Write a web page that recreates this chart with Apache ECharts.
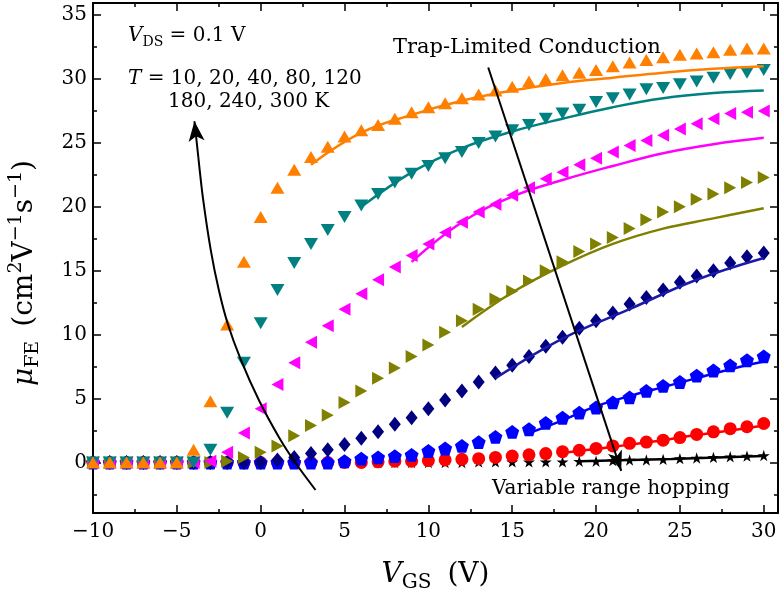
<!DOCTYPE html>
<html>
<head>
<meta charset="utf-8">
<script src="https://cdn.jsdelivr.net/npm/echarts@6/dist/echarts.min.js"></script>
<style>
  html, body { margin: 0; padding: 0; background: #fff; }
  #chart { width: 784px; height: 596px; }
</style>
</head>
<body>
<div id="chart"></div>
<script>
// gate voltage (V)
const vgs = [-10, -9, -8, -7, -6, -5, -4, -3, -2, -1, 0, 1, 2, 3, 4, 5, 6, 7, 8, 9, 10,
  11, 12, 13, 14, 15, 16, 17, 18, 19, 20, 21, 22, 23, 24, 25, 26, 27, 28, 29, 30];

// measured mobility, one array per temperature
const mu10K = [0, 0, 0, 0, 0, 0, 0, 0, 0, 0, 0, 0, 0, 0, 0, 0, 0, 0, 0, 0, 0,
  0, 0, 0.05, 0.05, 0.05, 0.05, 0.05, 0.05, 0.1, 0.1, 0.15, 0.2, 0.2, 0.25, 0.3, 0.35, 0.4, 0.45, 0.5, 0.55];
const mu20K = [0, 0, 0, 0, 0, 0, 0, 0, 0, 0, 0, 0, 0, 0, 0, 0, 0, 0.05, 0.1, 0.1, 0.15,
  0.2, 0.25, 0.3, 0.4, 0.5, 0.6, 0.7, 0.85, 0.95, 1.1, 1.3, 1.5, 1.6, 1.75, 1.95, 2.2, 2.4, 2.65, 2.8, 3.05];
const mu40K = [0, 0, 0, 0, 0, 0, 0, 0, 0, 0, 0, 0, 0, 0, 0, 0.1, 0.3, 0.4, 0.5, 0.6, 0.9,
  1.1, 1.3, 1.6, 2.0, 2.4, 2.6, 3.1, 3.5, 3.9, 4.3, 4.7, 5.1, 5.6, 6.0, 6.3, 6.8, 7.2, 7.6, 8.0, 8.3];
const mu80K = [0, 0, 0, 0, 0, 0, 0, 0, 0, 0, 0, 0.2, 0.4, 0.7, 1.0, 1.4, 1.9, 2.4, 3.0, 3.5, 4.2,
  4.9, 5.6, 6.3, 7.0, 7.6, 8.3, 9.1, 9.8, 10.5, 11.1, 11.7, 12.4, 12.9, 13.5, 14.1, 14.6, 15.0, 15.6, 16.1, 16.4];
const mu120K = [0, 0, 0, 0, 0, 0, 0, 0, 0.1, 0.4, 0.8, 1.3, 2.1, 2.9, 3.7, 4.7, 5.6, 6.6, 7.4, 8.3, 9.2,
  10.2, 11.1, 12.0, 12.8, 13.4, 14.2, 15.0, 15.7, 16.5, 17.1, 17.6, 18.3, 19.0, 19.6, 20.0, 20.6, 21.0, 21.5, 21.9, 22.3];
const mu180K = [0, 0, 0, 0, 0, 0, 0, 0.1, 0.8, 2.3, 4.2, 6.1, 7.8, 9.4, 10.7, 12.0, 13.2, 14.3, 15.3, 16.2, 17.1,
  18.0, 18.8, 19.6, 20.2, 20.9, 21.5, 22.2, 22.7, 23.3, 23.8, 24.3, 24.8, 25.2, 25.6, 26.1, 26.5, 26.9, 27.3, 27.4, 27.5];
const mu240K = [0, 0, 0, 0, 0, 0, 0, 1.0, 3.9, 7.8, 10.9, 13.5, 15.6, 17.1, 18.2, 19.2, 20.1, 21.0, 21.9, 22.6, 23.2,
  23.8, 24.3, 25.0, 25.5, 26.0, 26.4, 26.9, 27.3, 27.6, 28.2, 28.5, 28.8, 29.2, 29.3, 29.6, 29.8, 30.1, 30.4, 30.5, 30.7];
const mu300K = [0, 0, 0, 0, 0, 0, 1.0, 4.8, 10.8, 15.7, 19.2, 21.5, 22.9, 23.9, 24.7, 25.5, 26.0, 26.4, 26.9, 27.4, 27.8,
  28.1, 28.5, 28.8, 29.1, 29.4, 29.8, 30.0, 30.3, 30.5, 30.7, 31.0, 31.3, 31.5, 31.7, 31.9, 32.0, 32.1, 32.3, 32.4, 32.4];

// model fits [Vgs, mu]
const fit10K = [[19, 0.1], [24.5, 0.28], [30, 0.5]];
const fit20K = [[18, 0.75], [20, 1.05], [22, 1.4], [24, 1.75], [26, 2.15], [28, 2.5], [30, 2.9]];
const fit40K = [[16, 2.3], [18, 3.3], [20, 4.4], [22, 5.2], [24, 5.9], [26, 6.6], [28, 7.3], [30, 7.9]];
const fit80K = [[14, 6.6], [18, 9.7], [22, 12.0], [26, 14.3], [30, 16.0]];
const fit120K = [[12, 10.6], [15, 13.3], [18, 15.4], [21, 17.1], [24, 18.3], [27, 19.1], [30, 19.9]];
const fit180K = [[9, 15.7], [12, 18.8], [15, 20.8], [18, 22.1], [21, 23.2], [24, 24.2], [27, 24.9], [30, 25.4]];
const fit240K = [[6, 20.0], [9, 22.7], [12, 24.6], [15, 25.9], [18, 26.9], [21, 27.8], [24, 28.5], [27, 28.9], [30, 29.1]];
const fit300K = [[3, 23.3], [6, 25.8], [9, 27.2], [12, 28.3], [15, 29.1], [18, 29.7], [21, 30.1], [24, 30.5], [27, 30.8], [30, 31.0]];

// ticks
const xMajorTicks = [-10, -5, 0, 5, 10, 15, 20, 25, 30];
const xMinorTicks = [-7.5, -2.5, 2.5, 7.5, 12.5, 17.5, 22.5, 27.5];
const yMajorTicks = [0, 5, 10, 15, 20, 25, 30, 35];
const yMinorTicks = [-2.5, 2.5, 7.5, 12.5, 17.5, 22.5, 27.5, 32.5];

const SERIF = "DejaVu Serif";
const STAR = "path://M50,0 L61,35 L98,35 L68,57 L79,91 L50,70 L21,91 L32,57 L2,35 L39,35 Z";
const PENTAGON = "path://M50,0 L98,36 L79,95 L21,95 L2,36 Z";

const sets = [
  { name: "10 K", mu: mu10K, fit: fit10K, color: "#000000", line: "#000000", symbol: STAR, size: 12, rotate: 0 },
  { name: "20 K", mu: mu20K, fit: fit20K, color: "#ff0000", line: "#ff0000", symbol: "circle", size: 13, rotate: 0 },
  { name: "40 K", mu: mu40K, fit: fit40K, color: "#0000ff", line: "#0000ff", symbol: PENTAGON, size: 14, rotate: 0 },
  { name: "80 K", mu: mu80K, fit: fit80K, color: "#000080", line: "#1a1aa6", symbol: "diamond", size: [12, 15], rotate: 0 },
  { name: "120 K", mu: mu120K, fit: fit120K, color: "#808000", line: "#808000", symbol: "triangle", size: [13, 12], rotate: -90 },
  { name: "180 K", mu: mu180K, fit: fit180K, color: "#ff00ff", line: "#ff00ff", symbol: "triangle", size: [13, 12], rotate: 90 },
  { name: "240 K", mu: mu240K, fit: fit240K, color: "#008080", line: "#008080", symbol: "triangle", size: [14, 12], rotate: 180 },
  { name: "300 K", mu: mu300K, fit: fit300K, color: "#ff8000", line: "#ff8000", symbol: "triangle", size: [14, 12], rotate: 0 },
];

function xAxisDef(position, ticks, len, withLine, withLabel) {
  return {
    type: "value", position: position, min: -10, max: 30.85,
    axisLine: { show: withLine, onZero: false, lineStyle: { color: "#000", width: 2 } },
    axisTick: { show: true, inside: true, length: len, customValues: ticks, lineStyle: { color: "#000", width: 1.5 } },
    axisLabel: {
      show: withLabel, customValues: ticks, margin: 9,
      fontFamily: SERIF, fontSize: 20, color: "#000",
      formatter: (v) => String(v).replace("-", "\u2212"),
    },
    splitLine: { show: false },
  };
}

function yAxisDef(position, ticks, len, withLine, withLabel) {
  return {
    type: "value", position: position, min: -3.95, max: 35.95,
    axisLine: { show: withLine, onZero: false, lineStyle: { color: "#000", width: 2 } },
    axisTick: { show: true, inside: true, length: len, customValues: ticks, lineStyle: { color: "#000", width: 1.5 } },
    axisLabel: {
      show: withLabel, customValues: ticks, margin: 6,
      fontFamily: SERIF, fontSize: 20, color: "#000",
    },
    splitLine: { show: false },
  };
}

const xAxes = [
  xAxisDef("bottom", xMajorTicks, 8, true, true),
  xAxisDef("bottom", xMinorTicks, 4, false, false),
  xAxisDef("top", xMajorTicks, 8, true, false),
  xAxisDef("top", xMinorTicks, 4, false, false),
];
Object.assign(xAxes[0], {
  name: "{it|V}{sub|GS}{sp|}(V)",
  nameLocation: "middle",
  nameGap: 44,
  nameTextStyle: {
    fontFamily: SERIF, fontSize: 28, color: "#000",
    rich: {
      it: { fontFamily: SERIF, fontStyle: "italic", fontSize: 28, lineHeight: 36 },
      sub: { fontFamily: SERIF, fontSize: 20, lineHeight: 26, verticalAlign: "bottom" },
      sp: { width: 16 },
    },
  },
});

const yAxes = [
  yAxisDef("left", yMajorTicks, 8, true, true),
  yAxisDef("left", yMinorTicks, 4, false, false),
  yAxisDef("right", yMajorTicks, 8, true, false),
  yAxisDef("right", yMinorTicks, 4, false, false),
];
Object.assign(yAxes[0], {
  name: "{it|\u03bc}{sub|FE}{sp|}(cm{sup|2}V{sup|\u22121}s{sup|\u22121})",
  nameLocation: "middle",
  nameGap: 50,
  nameRotate: 90,
  nameTextStyle: {
    fontFamily: SERIF, fontSize: 28, color: "#000",
    padding: [0, 30, 0, 0],
    rich: {
      it: { fontFamily: SERIF, fontStyle: "italic", fontSize: 28, lineHeight: 36 },
      sub: { fontFamily: SERIF, fontSize: 19, lineHeight: 26, verticalAlign: "bottom" },
      sup: { fontFamily: SERIF, fontSize: 19, lineHeight: 22, verticalAlign: "top" },
      sp: { width: 14 },
    },
  },
});

const series = [];
sets.forEach((s) => {
  series.push({
    type: "scatter",
    name: s.name,
    data: vgs.map((v, i) => [v, s.mu[i]]),
    symbol: s.symbol,
    symbolSize: s.size,
    symbolRotate: s.rotate,
    symbolKeepAspect: true,
    itemStyle: { color: s.color, opacity: 1 },
    emphasis: { disabled: true },
  });
  series.push({
    type: "line",
    name: s.name + " fit",
    data: s.fit,
    smooth: 0.4,
    showSymbol: false,
    symbol: "none",
    lineStyle: { color: s.line, width: 2.5 },
    emphasis: { disabled: true },
  });
});

// annotation arrows (data coordinates)
function arrowHead(from, to, size) {
  return {
    silent: true,
    animation: false,
    symbol: ["none", "arrow"],
    symbolSize: size,
    label: { show: false },
    emphasis: { disabled: true },
    lineStyle: { color: "#000", width: 2, type: "solid" },
    data: [[{ coord: from }, { coord: to }]],
  };
}
// curved arrow: temperature increasing
series.push({
  type: "line",
  name: "T arrow",
  data: [[3.27, -2.15], [2.08, -0.04], [1.08, 2.0], [-0.11, 4.89], [-1.18, 8.03], [-1.98, 10.92],
    [-2.5, 13.51], [-2.98, 16.64], [-3.43, 20.56], [-3.72, 23.9]],
  smooth: 0.3,
  showSymbol: false,
  symbol: "none",
  lineStyle: { color: "#000", width: 2 },
  emphasis: { disabled: true },
  markLine: arrowHead([-3.72, 23.9], [-3.95, 26.7], [12, 20]),
});
// straight arrow: trap-limited -> variable range hopping
series.push({
  type: "line",
  name: "regime arrow",
  data: [],
  markLine: arrowHead([13.57, 30.9], [21.5, -0.65], [11, 20]),
});

const textStyleBase = { fontFamily: SERIF, fill: "#000" };

const option = {
  animation: false,
  backgroundColor: "#fff",
  grid: { left: 93, right: 6, top: 3, bottom: 83, containLabel: false, outerBoundsMode: "none" },
  xAxis: xAxes,
  yAxis: yAxes,
  series: series,
  graphic: [
    {
      type: "text", left: 128, top: 26,
      style: {
        ...textStyleBase,
        text: "{it|V}{sub|DS}{n| = 0.1 V}",
        rich: {
          it: { fontFamily: SERIF, fontStyle: "italic", fontSize: 20, lineHeight: 26 },
          sub: { fontFamily: SERIF, fontSize: 14, lineHeight: 18, verticalAlign: "bottom" },
          n: { fontFamily: SERIF, fontSize: 20, lineHeight: 26 },
        },
      },
    },
    {
      type: "text", left: 128, top: 69,
      style: {
        ...textStyleBase,
        text: "{it|T}{n| = 10, 20, 40, 80, 120}",
        rich: {
          it: { fontFamily: SERIF, fontStyle: "italic", fontSize: 20, lineHeight: 26 },
          n: { fontFamily: SERIF, fontSize: 20, lineHeight: 26 },
        },
      },
    },
    {
      type: "text", left: 168, top: 92,
      style: { ...textStyleBase, text: "180, 240, 300 K", fontSize: 20 },
    },
    {
      type: "text", left: 393, top: 37,
      style: { ...textStyleBase, text: "Trap-Limited Conduction", fontSize: 21 },
    },
    {
      type: "text", left: 492, top: 479,
      style: { ...textStyleBase, text: "Variable range hopping", fontSize: 20 },
    },
  ],
};

const chart = echarts.init(document.getElementById("chart"));
chart.setOption(option);
</script>
</body>
</html>
